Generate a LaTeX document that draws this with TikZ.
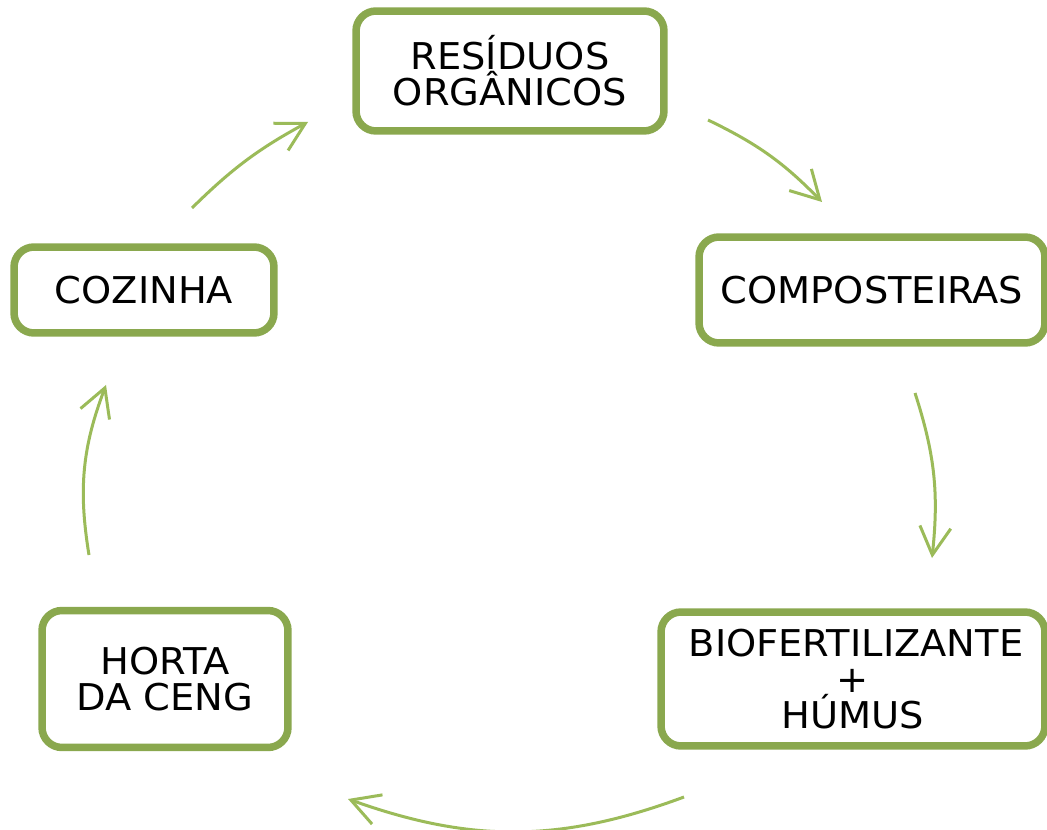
\documentclass[tikz,border=0pt]{standalone}
\usepackage{fontspec}
\setmainfont{DejaVu Sans}[FakeStretch=1.04]
\usetikzlibrary{arrows.meta}
\definecolor{boxgreen}{RGB}{138,168,78}
\definecolor{arrowgreen}{RGB}{155,187,89}

\begin{document}
\begin{tikzpicture}[x=0.02cm, y=-0.02cm,
		etapa/.style={draw=boxgreen, line width=0.15cm, rounded corners=0.4cm, fill=white, align=center, text=black, inner sep=0pt, font=\fontsize{21}{20.5}\selectfont},
		seta/.style={draw=arrowgreen, line width=0.06cm, -{Straight Barb[length=0.56cm,width=0.62cm]}}]
			\useasboundingbox (0,0) rectangle (1047,830);
			\node[etapa, minimum width=6.16cm, minimum height=2.4cm] (residuos) at (510,71) {RESÍDUOS\\ORGÂNICOS};
			\node[etapa, minimum width=6.92cm, minimum height=2.12cm] (composteiras) at (872,290) {COMPOSTEIRAS};
			\node[etapa, minimum width=7.68cm, minimum height=2.68cm] (humus) at (853,679) {\hspace{0.12cm}BIOFERTILIZANTE\\+\\HÚMUS};
			\node[etapa, minimum width=4.92cm, minimum height=2.74cm] (horta) at (165,679) {HORTA\\DA CENG};
			\node[etapa, minimum width=5.2cm, minimum height=1.72cm] (cozinha) at (144,290) {COZINHA};
			\coordinate (saiCozinha) at (192,208);
			\coordinate (chegaResiduos) at (308,122);
			\coordinate (saiResiduos) at (708,120);
			\coordinate (chegaComposteiras) at (822,202);
			\coordinate (saiComposteiras) at (915,393);
			\coordinate (chegaHumus) at (932,558);
			\coordinate (saiHumus) at (684,797);
			\coordinate (chegaHorta) at (348,799);
			\coordinate (saiHorta) at (89,555);
			\coordinate (chegaCozinha) at (106,385);
			\draw[seta] (saiCozinha) to[bend left=8] (chegaResiduos);
			\draw[seta] (saiResiduos) to[bend left=10] (chegaComposteiras);
			\draw[seta] (saiComposteiras) to[bend left=12] (chegaHumus);
			\draw[seta] (saiHumus) to[bend left=20] (chegaHorta);
			\draw[seta] (saiHorta) to[bend left=15] (chegaCozinha);
		\end{tikzpicture}
\end{document}
